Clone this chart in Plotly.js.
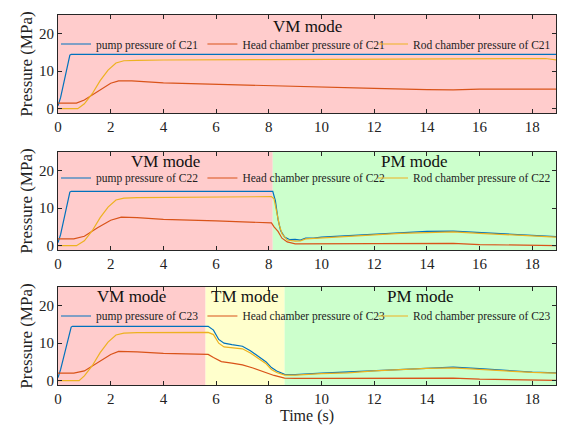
<!DOCTYPE html>
<html><head><meta charset="utf-8">
<script src="https://cdn.plot.ly/plotly-3.0.1.min.js"></script>
<style>html,body{margin:0;padding:0;background:#fff}#c{width:563px;height:429px}</style>
</head><body><div id="c"></div>
<script>
// ---- Panel 1 (C21) ----
const t21Pump = [0, 0.1, 0.45, 0.5, 18.9];
const p21Pump = [0.8, 3, 14.3, 14.5, 14.5];
const t21Head = [0, 0.7, 1.0, 1.5, 2.0, 2.3, 2.8, 4, 6, 8, 10, 12, 14, 15, 16, 18.9];
const p21Head = [1.5, 1.5, 2.3, 4.5, 6.8, 7.4, 7.4, 6.9, 6.5, 6.0, 5.8, 5.4, 5.1, 5.0, 5.2, 5.2];
const t21Rod = [0, 0.75, 1.0, 1.3, 1.6, 1.9, 2.2, 2.5, 3, 4, 8, 12, 16, 17.5, 18.5, 18.9];
const p21Rod = [0, 0, 1.3, 4, 7.5, 10.3, 12.2, 12.8, 12.9, 13, 13.1, 13.2, 13.3, 13.5, 13.4, 13.0];

// ---- Panel 2 (C22) ----
const t22Pump = [0, 0.1, 0.45, 0.5, 8.15, 8.25, 8.35, 8.45, 8.6, 8.8, 9.0, 9.2, 9.4, 9.7, 10, 11, 12, 13, 14, 15, 16, 17, 18, 18.9];
const p22Pump = [0.8, 3, 14.3, 14.5, 14.5, 12, 7, 4, 2.3, 1.6, 1.7, 1.5, 2.0, 2.0, 2.3, 2.7, 3.0, 3.5, 3.8, 3.9, 3.5, 3.0, 2.7, 2.4];
const t22Head = [0, 0.6, 1, 1.5, 2, 2.4, 3, 4, 6, 8.1, 8.2, 8.35, 8.5, 8.7, 9, 10, 12, 14, 15, 16, 18, 18.9];
const p22Head = [1.8, 1.8, 2.5, 4.8, 6.8, 7.6, 7.5, 7.0, 6.6, 6.1, 5.0, 3.8, 2.0, 1.0, 0.5, 0.5, 0.6, 0.7, 0.6, 0.3, 0.2, 0.0];
const t22Rod = [0, 0.7, 1.0, 1.3, 1.6, 1.9, 2.2, 2.5, 3, 5, 8.1, 8.2, 8.3, 8.4, 8.5, 8.7, 9.0, 9.2, 9.4, 10, 11, 12, 13, 14, 15, 16, 17, 18, 18.9];
const p22Rod = [0, 0, 1.3, 4, 7.5, 10.3, 12.2, 12.7, 12.8, 12.9, 13.1, 12.5, 8.5, 5.5, 3.2, 1.5, 1.2, 1.3, 1.8, 2.1, 2.5, 2.9, 3.3, 3.6, 3.7, 3.3, 2.9, 2.6, 2.3];

// ---- Panel 3 (C23) ----
const t23Pump = [0, 0.1, 0.5, 0.55, 5.7, 5.9, 6.1, 6.3, 6.6, 7.0, 7.3, 7.6, 7.9, 8.1, 8.3, 8.6, 9, 10, 11, 12, 13, 14, 15, 16, 17, 18, 18.9];
const p23Pump = [0.8, 3, 14.3, 14.5, 14.5, 13.5, 11, 10, 9.6, 9.2, 8, 6.6, 5, 3.5, 2.6, 1.7, 1.6, 2.0, 2.3, 2.7, 3.1, 3.4, 3.6, 3.2, 2.7, 2.3, 2.1];
const t23Rod = [0, 0.8, 1.0, 1.3, 1.6, 1.9, 2.2, 2.5, 3, 5.7, 5.9, 6.1, 6.3, 6.6, 7.0, 7.3, 7.6, 7.9, 8.1, 8.3, 8.6, 9, 10, 11, 12, 13, 14, 15, 16, 17, 18, 18.9];
const p23Rod = [0, 0, 1.3, 4, 7.5, 10.3, 12.2, 12.7, 12.8, 12.9, 12.3, 10, 9, 8.8, 8.5, 7.4, 6, 4.5, 3.0, 2.2, 1.5, 1.5, 1.9, 2.1, 2.6, 3.0, 3.3, 3.4, 3.0, 2.5, 2.2, 2.0];
const t23Head = [0, 0.6, 1, 1.5, 2, 2.3, 3, 4, 5.7, 5.9, 6.2, 6.6, 7.0, 7.4, 7.8, 8.2, 8.6, 9, 10, 12, 14, 15, 16, 18, 18.9];
const p23Head = [2, 2, 2.6, 4.8, 7.0, 7.8, 7.7, 7.3, 7.0, 6.2, 5.1, 4.7, 4.2, 3.4, 2.4, 1.4, 0.7, 0.6, 0.6, 0.7, 0.8, 0.7, 0.4, 0.2, 0.1];

// mode regions [start, end, label]
const modes1 = [[0, 18.9, 'VM mode']];
const modes2 = [[0, 8.15, 'VM mode'], [8.15, 18.9, 'PM mode']];
const modes3 = [[0, 5.6, 'VM mode'], [5.6, 8.6, 'TM mode'], [8.6, 18.9, 'PM mode']];
const modeColors = {'VM mode': '#FFCCCC', 'TM mode': '#FFFFCC', 'PM mode': '#CCFFCC'};

const xTicks = [0, 2, 4, 6, 8, 10, 12, 14, 16, 18];
const yTicks = [0, 10, 20];

const C_PUMP = '#0072BD', C_HEAD = '#D95319', C_ROD = '#EDB120';
const FONT = 'Liberation Serif';

function tr(x, y, name, color, ax, leg) {
  return {x: x, y: y, name: name, type: 'scatter', mode: 'lines',
          line: {color: color, width: 1.2}, xaxis: ax[0], yaxis: ax[1], legend: leg};
}
const data = [
  tr(t21Pump, p21Pump, 'pump pressure of C21', C_PUMP, ['x', 'y'], 'legend'),
  tr(t21Head, p21Head, 'Head chamber pressure of C21', C_HEAD, ['x', 'y'], 'legend2'),
  tr(t21Rod, p21Rod, 'Rod chamber pressure of C21', C_ROD, ['x', 'y'], 'legend3'),
  tr(t22Pump, p22Pump, 'pump pressure of C22', C_PUMP, ['x2', 'y2'], 'legend4'),
  tr(t22Head, p22Head, 'Head chamber pressure of C22', C_HEAD, ['x2', 'y2'], 'legend5'),
  tr(t22Rod, p22Rod, 'Rod chamber pressure of C22', C_ROD, ['x2', 'y2'], 'legend6'),
  tr(t23Pump, p23Pump, 'pump pressure of C23', C_PUMP, ['x3', 'y3'], 'legend7'),
  tr(t23Head, p23Head, 'Head chamber pressure of C23', C_HEAD, ['x3', 'y3'], 'legend8'),
  tr(t23Rod, p23Rod, 'Rod chamber pressure of C23', C_ROD, ['x3', 'y3'], 'legend9'),
];

const shapes = [], annotations = [];
function addModes(modes, xr, yr, labelY) {
  modes.forEach(m => {
    shapes.push({type: 'rect', xref: xr, yref: yr + ' domain', x0: m[0], x1: m[1], y0: 0, y1: 1,
                 fillcolor: modeColors[m[2]], line: {width: 0}, layer: 'below'});
    annotations.push({text: m[2], xref: xr, yref: yr + ' domain', x: (m[0] + m[1]) / 2, y: labelY,
                      showarrow: false, yanchor: 'middle', font: {family: FONT, size: 17, color: '#111'}});
  });
}
addModes(modes1, 'x', 'y', 0.885);
addModes(modes2, 'x2', 'y2', 0.9);
addModes(modes3, 'x3', 'y3', 0.9);

function xa(anchor, title) {
  const a = {domain: [0, 1], anchor: anchor, range: [0, 18.9], tickvals: xTicks, ticks: 'inside', ticklen: 4,
             showline: true, mirror: 'ticks', linecolor: '#262626', linewidth: 1, tickcolor: '#262626',
             showgrid: false, zeroline: false, tickfont: {family: FONT, size: 15, color: '#222'}};
  if (title) a.title = {text: title, font: {family: FONT, size: 16, color: '#222'}, standoff: 2};
  return a;
}
function ya(anchor, dom) {
  return {domain: dom, anchor: anchor, range: [-1.15, 25], tickvals: yTicks, ticks: 'inside', ticklen: 4,
          showline: true, mirror: 'ticks', linecolor: '#262626', linewidth: 1, tickcolor: '#262626',
          showgrid: false, zeroline: false, tickfont: {family: FONT, size: 15, color: '#222'},
          title: {text: 'Pressure (MPa)', font: {family: FONT, size: 17, color: '#222'}, standoff: 2}};
}
// legend entry positions (paper coordinates) and anchors
const legX = [-0.004, 0.29, 1.0];
const legAnchor = ['left', 'left', 'right'];
const legY = [0.9216, 0.5595, 0.1865];
function leg(x, xanchor, y) {
  return {orientation: 'v', x: x, xanchor: xanchor, y: y, yanchor: 'middle', bgcolor: 'rgba(0,0,0,0)',
          font: {family: FONT, size: 11.5, color: '#222'}, itemwidth: 30, borderwidth: 0};
}

const layout = {
  width: 563, height: 429,
  margin: {l: 58, r: 7, t: 15, b: 44},
  font: {family: FONT},
  paper_bgcolor: '#fff', plot_bgcolor: 'rgba(0,0,0,0)',
  showlegend: true,
  xaxis: xa('y'), yaxis: ya('x', [0.7351, 1]),
  xaxis2: xa('y2'), yaxis2: ya('x2', [0.3649, 0.6297]),
  xaxis3: xa('y3', 'Time (s)'), yaxis3: ya('x3', [0, 0.2649]),
  shapes: shapes, annotations: annotations
};
const legNames = ['legend', 'legend2', 'legend3', 'legend4', 'legend5', 'legend6', 'legend7', 'legend8', 'legend9'];
legNames.forEach((n, i) => { layout[n] = leg(legX[i % 3], legAnchor[i % 3], legY[Math.floor(i / 3)]); });

Plotly.newPlot('c', data, layout, {displayModeBar: false, staticPlot: true});
</script></body></html>
